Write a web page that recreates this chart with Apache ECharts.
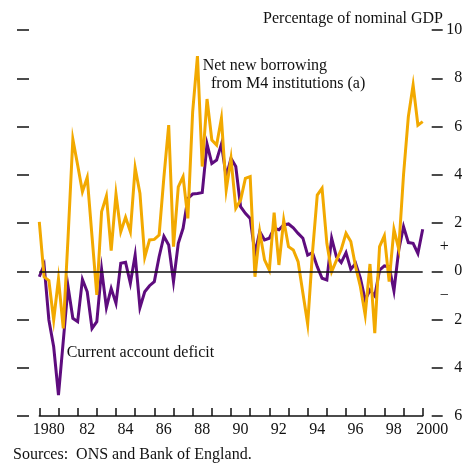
<!DOCTYPE html>
<html><head><meta charset="utf-8">
<script src="https://cdn.jsdelivr.net/npm/echarts@6/dist/echarts.min.js"></script>
<style>html,body{margin:0;padding:0;background:#fff}#c{width:463px;height:463px}</style>
</head><body><div id="c"></div>
<script>
// Quarterly observations, 1980 Q1 onward (x positions: start year + quarter index / 4)
const startYear = 1980;
const quartersPerYear = 4;
const netNewBorrowing = [
  2.05,-0.23,-0.39,-2.02,-0.32,-2.37,1.4,5.47,4.4,3.3,
  3.89,1.45,-0.98,2.47,3.12,0.85,3.2,1.64,2.24,1.64,
  4.29,3.23,0.58,1.3,1.32,1.5,3.9,6.06,1.02,3.5,
  3.92,2.19,6.61,8.92,4.34,7.14,5.44,5.23,6.34,3.37,
  4.68,2.61,2.95,3.85,3.92,-0.23,1.64,0.47,0.05,2.43,
  0.26,2.12,1.02,0.88,0.4,-0.9,-2.19,0.77,3.16,3.44,
  1.16,-0.02,0.45,0.9,1.57,1.23,0.19,-0.64,-1.81,0.3,
  -2.57,1.02,1.47,-0.43,1.74,0.92,4.0,6.4,7.72,6.05,6.2
];
const currentAccountDeficit = [
  -0.23,0.26,-2.02,-3.13,-5.13,-2.9,-0.64,-1.95,-2.09,-0.34,
  -0.85,-2.37,-2.09,0.08,-1.51,-0.71,-1.33,0.33,0.37,-0.5,
  0.67,-1.51,-0.85,-0.6,-0.43,0.6,1.45,1.09,-0.43,1.16,
  1.78,3.02,3.2,3.22,3.26,5.27,4.47,4.61,5.27,3.92,
  4.68,4.34,2.68,2.4,2.19,0.74,1.64,1.3,1.37,1.78,
  1.72,1.92,1.96,1.8,1.57,1.37,0.67,0.77,0.19,-0.29,
  -0.36,1.37,0.6,0.36,0.77,0.08,0.33,-0.29,-1.19,-0.78,
  -1.03,0.05,0.22,0.19,-0.81,0.88,1.85,1.19,1.16,0.74,1.74
];
const yearLabels = {1980:'1980',1982:'82',1984:'84',1986:'86',1988:'88',1990:'90',1992:'92',1994:'94',1996:'96',1998:'98',2000:'2000'};
const signLabels = {1:'+', '-1':'\u2212'};
const zeroLine = [0];

const toPairs = arr => arr.map((v, i) => [startYear + i / quartersPerYear, v]);

const FONT = 'Liberation Serif';
const INK = '#111';
const chart = echarts.init(document.getElementById('c'), null, {renderer: 'canvas'});
chart.setOption({
  animation: false,
  backgroundColor: '#fff',
  grid: {left: 39.3, right: 40.3, top: 30, bottom: 47, containLabel: false, outerBoundsMode: 'none'},
  xAxis: {
    type: 'value', min: 1980, max: 2000, interval: 1,
    splitLine: {show: false},
    axisLine: {show: true, onZero: false, lineStyle: {color: INK, width: 1.5}},
    axisTick: {show: true, inside: true, length: 8, lineStyle: {color: INK, width: 1.5}},
    axisLabel: {
      show: true, margin: 6, fontFamily: FONT, fontSize: 16, color: INK,
      padding: [0, 0, 0, 19],
      formatter: v => yearLabels[v] || ''
    }
  },
  yAxis: [
    { // left dashes
      type: 'value', position: 'left', min: -6, max: 10, interval: 2, offset: 10.3,
      splitLine: {show: false}, axisLine: {show: false},
      axisTick: {show: true, length: 12, lineStyle: {color: INK, width: 1.5}},
      axisLabel: {show: false}
    },
    { // right scale
      type: 'value', position: 'right', min: -6, max: 10, interval: 2, offset: 9,
      splitLine: {show: false}, axisLine: {show: false},
      axisTick: {show: true, length: 11, lineStyle: {color: INK, width: 1.5}},
      axisLabel: {show: true, align: 'right', margin: 30.5, fontFamily: FONT, fontSize: 16, color: INK,
        formatter: v => String(Math.abs(v))}
    },
    { // + / − markers
      type: 'value', position: 'right', min: -6, max: 10, interval: 1, offset: 9,
      splitLine: {show: false}, axisLine: {show: false}, axisTick: {show: false},
      axisLabel: {show: true, align: 'center', margin: 12.5, fontFamily: FONT, fontSize: 16, color: INK,
        formatter: v => signLabels[String(v)] || ''}
    }
  ],
  series: [
    {
      type: 'line', data: [], yAxisIndex: 1, silent: true, z: 1,
      markLine: {silent: true, symbol: 'none', label: {show: false},
        lineStyle: {color: INK, width: 1.5, type: 'solid'},
        data: zeroLine.map(v => ({yAxis: v}))}
    },
    {
      name: 'Current account deficit', type: 'line', yAxisIndex: 1, z: 3,
      data: toPairs(currentAccountDeficit), showSymbol: false, symbol: 'none',
      lineStyle: {color: '#5E0C7E', width: 3, join: 'miter'}
    },
    {
      name: 'Net new borrowing from M4 institutions (a)', type: 'line', yAxisIndex: 1, z: 4,
      data: toPairs(netNewBorrowing), showSymbol: false, symbol: 'none',
      lineStyle: {color: '#F2A900', width: 3, join: 'miter'}
    }
  ],
  graphic: [
    {type: 'text', right: 20, top: 11, style: {text: 'Percentage of nominal GDP', font: '16px "Liberation Serif"', fill: INK}},
    {type: 'text', left: 202.7, top: 58, style: {text: 'Net new borrowing', font: '16px "Liberation Serif"', fill: INK}},
    {type: 'text', left: 211, top: 76, style: {text: 'from M4 institutions (a)', font: '16px "Liberation Serif"', fill: INK}},
    {type: 'text', left: 66.7, top: 345, style: {text: 'Current account deficit', font: '16px "Liberation Serif"', fill: INK}},
    {type: 'text', left: 13, top: 447, style: {text: 'Sources:  ONS and Bank of England.', font: '16px "Liberation Serif"', fill: INK}}
  ]
});
</script></body></html>
